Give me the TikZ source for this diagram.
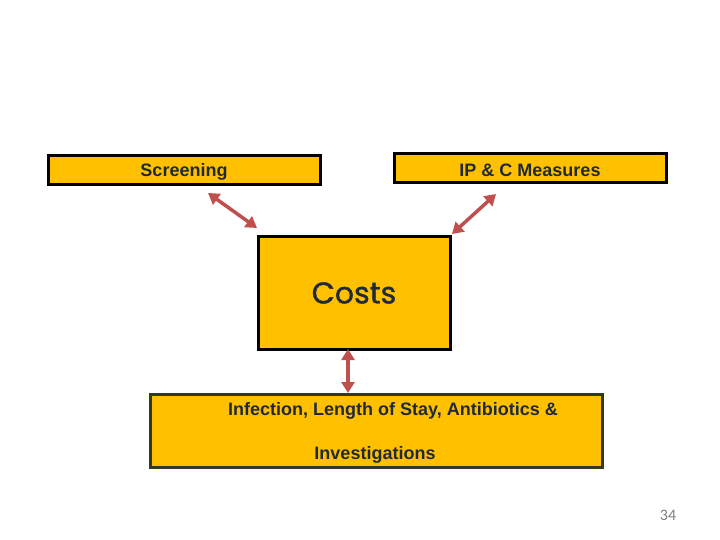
\documentclass[tikz,border=0pt]{standalone}
\usepackage{fontspec}
\setmainfont{Liberation Sans}
\newfontfamily\costsfont[FakeBold=1.2]{Poppins}
\newfontfamily\numfont{Carlito}
\usetikzlibrary{arrows.meta,calc,positioning}
\definecolor{boxfill}{HTML}{FFC000}
\definecolor{arrowred}{HTML}{C0504D}
\definecolor{boxgreen}{HTML}{2E3B26}
\definecolor{textdark}{HTML}{1F2A38}

\begin{document}
\begin{tikzpicture}[x=1pt,y=-1pt,
    box/.style={draw=black,line width=3pt,fill=boxfill,inner sep=0pt},
    link/.style={arrowred,line width=3.5pt,{Triangle[length=11pt,width=13pt]}-{Triangle[length=11pt,width=13pt]}}]
    \useasboundingbox (0,0) rectangle (720,540);
    % boxes
    \node[box,minimum width=272pt,minimum height=29pt] (S) at (184,170.5) {};
    \node[box,minimum width=272pt,minimum height=29pt] (P) at (530,168.5) {};
    \node[box,minimum width=192pt,minimum height=113pt] (C) at (354,292.5) {};
    \node[box,draw=boxgreen,minimum width=452pt,minimum height=73pt] (L) at (376,430.5) {};
    % texts
    \node[textdark,font=\bfseries\fontsize{18}{20}\selectfont] at (184,172) {Screening};
    \node[textdark,font=\bfseries\fontsize{18}{20}\selectfont] at (530,170) {IP \& C Measures};
    \node[textdark,font=\costsfont\fontsize{30}{32}\selectfont] at (354,293) {Costs};
    \node[textdark,font=\bfseries\fontsize{18}{20}\selectfont,align=center] at (375,433)
        {\hspace*{36pt}Infection, Length of Stay, Antibiotics \&\\[24pt]Investigations};
    \node[gray,font=\numfont\fontsize{16}{18}\selectfont] at (668,515) {34};
    % arrows
    \coordinate (A) at (208,193);
    \coordinate (B) at (257,228);
    \coordinate (D) at (496,194);
    \coordinate (E) at (452,234);
    \coordinate (F) at (348,349);
    \coordinate (G) at (348,393);
    \draw[link] (A)--(B);
    \draw[link] (D)--(E);
    \draw[link] (F)--(G);
\end{tikzpicture}
\end{document}
